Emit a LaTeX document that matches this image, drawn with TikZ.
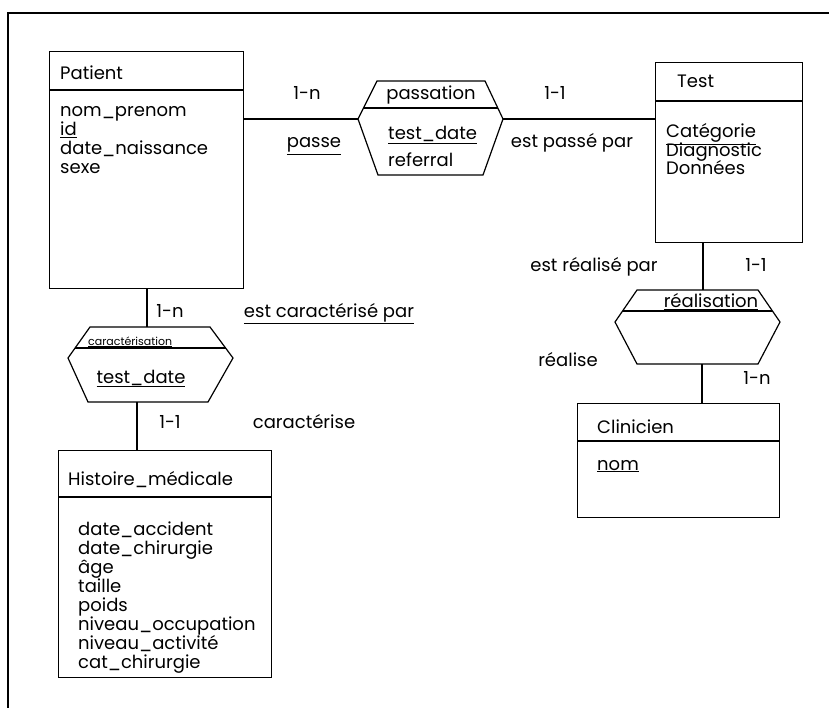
\documentclass[tikz,border=0pt]{standalone}
\usepackage{fontspec}
\setmainfont{Poppins}
\begin{document}
\begin{tikzpicture}[x=1pt, y=-1pt,
  entity/.style={draw, line width=1.2pt, rectangle, anchor=north west, inner sep=0pt},
  txt/.style={inner sep=0pt, font=\fontsize{18}{19}\selectfont},
  small/.style={inner sep=0pt, font=\fontsize{11}{12}\selectfont},
  assoc/.style={draw, line width=1.2pt, line join=miter},
  link/.style={line width=1.2pt}]

    \useasboundingbox (0,0) rectangle (829,708);
    \draw[line width=1.5pt] (8,708) -- (8,13) -- (829,13);

    % entities
    \node[entity, minimum width=194, minimum height=237] (patient) at (49,51) {};
    \node[entity, minimum width=147, minimum height=180] (test) at (655,62) {};
    \node[entity, minimum width=213, minimum height=227] (histoire) at (58,450) {};
    \node[entity, minimum width=202, minimum height=114] (clinicien) at (577,403) {};

    \draw[link] ([yshift=-39pt]patient.north west) -- ([yshift=-39pt]patient.north east);
    \draw[link] ([yshift=-39pt]test.north west) -- ([yshift=-39pt]test.north east);
    \draw[link] ([yshift=-47pt]histoire.north west) -- ([yshift=-47pt]histoire.north east);
    \draw[link] ([yshift=-38pt]clinicien.north west) -- ([yshift=-38pt]clinicien.north east);

    \node[txt, anchor=base west] (patientT) at (60,80) {Patient};
    \node[txt, anchor=base west] (testT) at (677,88) {Test};
    \node[txt, anchor=base west] (histoireT) at (68,485) {Histoire\_médicale};
    \node[txt, anchor=base west] (clinicienT) at (597,433) {Clinicien};

    \foreach \t [count=\i] in {nom\_prenom, {\underline{id}}, date\_naissance, sexe}
      \node[txt, anchor=base west] (pa\i) at (60,{117+19*(\i-1)}) {\t};
    \foreach \t [count=\i] in {{\underline{Catégorie}}, Diagnostic, Données}
      \node[txt, anchor=base west] (te\i) at (666,{138+18.5*(\i-1)}) {\t};
    \foreach \t [count=\i] in {date\_accident, date\_chirurgie, âge, taille, poids,
        niveau\_occupation, niveau\_activité, cat\_chirurgie}
      \node[txt, anchor=base west] (hi\i) at (78,{535+19.1*(\i-1)}) {\t};
    \node[txt, anchor=base west] (cl1) at (597,470) {\underline{nom}};

    % associations
    \coordinate (pasW) at (358,119);
    \coordinate (pasE) at (503,119);
    \draw[assoc] (377,81) -- (485,81) -- (pasE) -- (483,175) -- (378,175) -- (pasW) -- cycle;
    \draw[link] (363.5,108) -- (497.8,108);
    \node[txt, anchor=base] (pasT) at (431,100) {passation};
    \node[txt, anchor=base west] (pas1) at (388,140) {\underline{test\_date}};
    \node[txt, anchor=base west] (pas2) at (388,167) {referral};

    \coordinate (carN) at (147,327);
    \coordinate (carS) at (137,402);
    \draw[assoc] (90,327) -- (210,327) -- (233,358) -- (208,402) -- (88,402) -- (68,358) -- cycle;
    \draw[link] (75,348) -- (225.6,348);
    \node[small, anchor=base west] (carT) at (88,345) {\underline{caractérisation}};
    \node[txt, anchor=base] (car1) at (141,383) {\underline{test\_date}};

    \coordinate (realN) at (703,290);
    \coordinate (realS) at (702,364);
    \draw[assoc] (637,290) -- (758,290) -- (780,322) -- (758,364) -- (637,364) -- (615,322) -- cycle;
    \draw[link] (622.6,311) -- (772.4,311);
    \node[txt, anchor=base] (realT) at (711,308) {\underline{réalisation}};

    % links
    \draw[link] (patient.east |- pasW) -- (pasW);
    \draw[link] (pasE) -- (test.west |- pasE);
    \draw[link] (patient.south -| carN) -- (carN);
    \draw[link] (carS) -- (histoire.north -| carS);
    \draw[link] (test.south -| realN) -- (realN);
    \draw[link] (realS) -- (clinicien.north -| realS);

    % roles and cardinalities
    \node[txt, anchor=base] (c1) at (307,100) {1-n};
    \node[txt, anchor=base] (r1) at (314,148) {\underline{passe}};
    \node[txt, anchor=base] (c2) at (555,100) {1-1};
    \node[txt, anchor=base] (r2) at (572,148) {est passé par};
    \node[txt, anchor=base] (c3) at (170,317) {1-n};
    \node[txt, anchor=base] (r3) at (329,317) {\underline{est caractérisé par}};
    \node[txt, anchor=base] (c4) at (170,428) {1-1};
    \node[txt, anchor=base] (r4) at (304,428) {caractérise};
    \node[txt, anchor=base] (c5) at (756,272) {1-1};
    \node[txt, anchor=base] (r5) at (594,272) {est réalisé par};
    \node[txt, anchor=base] (c6) at (757,384) {1-n};
    \node[txt, anchor=base] (r6) at (568,366) {réalise};

\end{tikzpicture}
\end{document}
